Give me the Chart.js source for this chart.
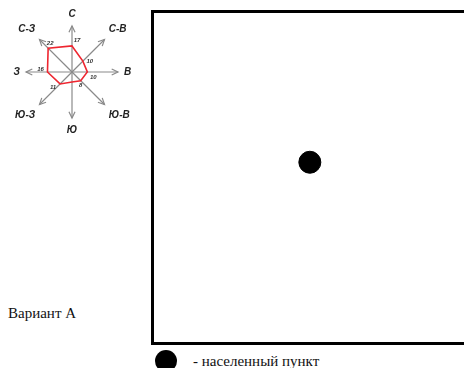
<!DOCTYPE html>
<html lang="ru">
<head>
<meta charset="utf-8">
<title>Роза ветров</title>
<script src="https://cdn.jsdelivr.net/npm/chart.js@4/dist/chart.umd.min.js"></script>
<style>
    html, body { margin: 0; padding: 0; background: #fff; }
    body { width: 464px; height: 368px; overflow: hidden; position: relative; }
    #rose { position: absolute; left: 0; top: 0; width: 145px; height: 145px; }
    #map {
        position: absolute; left: 151px; top: 10px; width: 340px; height: 335px;
        box-sizing: border-box; border: 3px solid #000;
    }
    #mapInner { position: relative; width: 100%; height: 100%; }
    #variant {
        position: absolute; left: 8px; top: 305px;
        font-family: "Liberation Serif", serif; font-size: 15px; color: #111;
    }
    #legend {
        position: absolute; left: 155px; top: 350px; height: 22px;
        display: flex; align-items: center;
        font-family: "Liberation Serif", serif; font-size: 15px; color: #111;
    }
    #legend .dot { width: 22px; height: 22px; border-radius: 50%; background: #000; margin-right: 16px; }
</style>
</head>
<body>
<div id="rose"><canvas id="roseChart"></canvas></div>
<div id="map"><div id="mapInner"><canvas id="mapChart"></canvas></div></div>
<div id="variant">Вариант А</div>
<div id="legend"><span class="dot"></span><span>- населенный пункт</span></div>

<script>
// роза ветров: направления и повторяемость (%)
const directions = ['С', 'С-В', 'В', 'Ю-В', 'Ю', 'Ю-З', 'З', 'С-З'];
const windValues = [17, 10, 10, 8, 6.5, 11, 16, 22];
const valueLabels = ['17', '10', '10', '8', '', '11', '16', '22'];

// населенный пункт на плане участка
const settlementX = [4.64];
const settlementY = [5.5];

// сдвиг подписей значений от вершин (px)
const labelShift = [[5, -6], [7, 0], [6, 5], [0, 5], [0, 0], [-7, 3], [-7, -3], [2, -5]];

const arrowHeads = {
    id: 'arrowHeads',
    afterDraw(chart) {
        const r = chart.scales.r;
        const ctx = chart.ctx;
        ctx.save();
        ctx.strokeStyle = '#8a8a8a';
        ctx.lineWidth = 1.2;
        for (let i = 0; i < directions.length; i++) {
            const tip = r.getPointPosition(i, r.drawingArea);
            const a = r.getIndexAngle(i) - Math.PI / 2;
            ctx.beginPath();
            ctx.moveTo(tip.x - 7 * Math.cos(a - 0.45), tip.y - 7 * Math.sin(a - 0.45));
            ctx.lineTo(tip.x, tip.y);
            ctx.lineTo(tip.x - 7 * Math.cos(a + 0.45), tip.y - 7 * Math.sin(a + 0.45));
            ctx.stroke();
        }
        ctx.restore();
    }
};

const valueText = {
    id: 'valueText',
    afterDatasetsDraw(chart) {
        const r = chart.scales.r;
        const ctx = chart.ctx;
        ctx.save();
        ctx.font = 'italic bold 6px "Liberation Sans", Arial, sans-serif';
        ctx.fillStyle = '#333';
        ctx.textAlign = 'center';
        ctx.textBaseline = 'middle';
        windValues.forEach((v, i) => {
            if (!valueLabels[i]) return;
            const p = r.getPointPositionForValue(i, v);
            ctx.fillText(valueLabels[i], p.x + labelShift[i][0], p.y + labelShift[i][1]);
        });
        ctx.restore();
    }
};

new Chart(document.getElementById('roseChart'), {
    type: 'radar',
    data: {
        labels: directions,
        datasets: [{
            data: windValues,
            borderColor: '#ee2630',
            borderWidth: 1.6,
            fill: false,
            pointRadius: 0,
            tension: 0
        }]
    },
    options: {
        responsive: true,
        maintainAspectRatio: false,
        animation: false,
        layout: { padding: 8 },
        plugins: { legend: { display: false }, tooltip: { enabled: false } },
        scales: {
            r: {
                min: 0,
                max: 30,
                ticks: { display: false },
                grid: { display: false },
                angleLines: { color: '#8a8a8a', lineWidth: 1.2 },
                pointLabels: {
                    color: '#222',
                    padding: 6,
                    font: { family: '"Liberation Sans", Arial, sans-serif', size: 10, weight: 'bold', style: 'italic' }
                }
            }
        }
    },
    plugins: [arrowHeads, valueText]
});

new Chart(document.getElementById('mapChart'), {
    type: 'scatter',
    data: {
        datasets: [{
            data: settlementX.map((x, i) => ({ x: x, y: settlementY[i] })),
            backgroundColor: '#000',
            borderColor: '#000',
            pointRadius: 11
        }]
    },
    options: {
        responsive: true,
        maintainAspectRatio: false,
        animation: false,
        layout: { padding: 0 },
        plugins: { legend: { display: false }, tooltip: { enabled: false } },
        scales: {
            x: { display: false, min: 0, max: 10 },
            y: { display: false, min: 0, max: 10 }
        }
    }
});
</script>
</body>
</html>
